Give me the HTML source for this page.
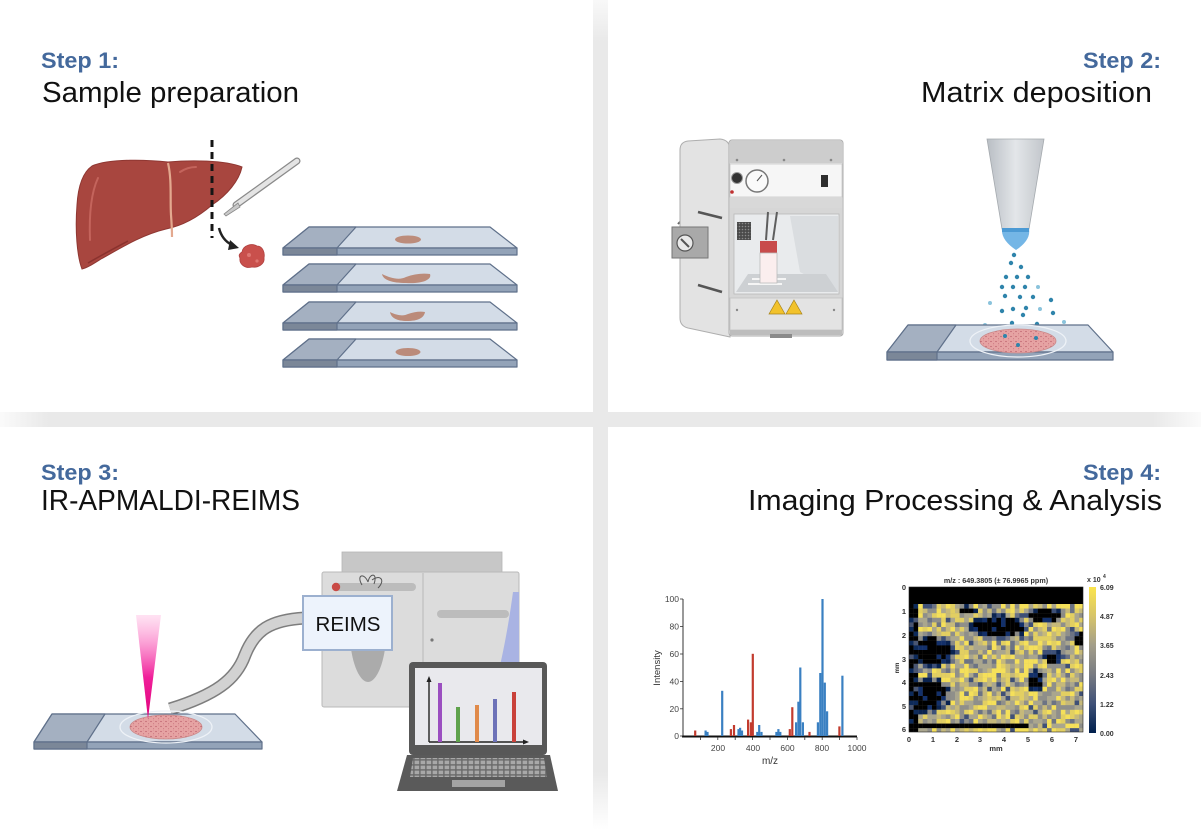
<!DOCTYPE html>
<html><head><meta charset="utf-8">
<style>
html,body{margin:0;padding:0;background:#fff;}
svg{display:block;}
text{font-family:"Liberation Sans",Arial,sans-serif;}
</style></head>
<body>
<svg xmlns="http://www.w3.org/2000/svg" width="1201" height="840" viewBox="0 0 1201 840">
<defs>
  <linearGradient id="vdiv" x1="0" y1="0" x2="0" y2="1">
    <stop offset="0" stop-color="#e9e9e9" stop-opacity="0.3"/>
    <stop offset="0.05" stop-color="#e9e9e9"/>
    <stop offset="0.93" stop-color="#e9e9e9"/>
    <stop offset="1" stop-color="#e9e9e9" stop-opacity="0"/>
  </linearGradient>
  <linearGradient id="hdiv" x1="0" y1="0" x2="1" y2="0">
    <stop offset="0" stop-color="#e9e9e9" stop-opacity="0.2"/>
    <stop offset="0.04" stop-color="#e9e9e9"/>
    <stop offset="0.96" stop-color="#e9e9e9"/>
    <stop offset="1" stop-color="#e9e9e9" stop-opacity="0.2"/>
  </linearGradient>
  <linearGradient id="laser" x1="0" y1="0" x2="0" y2="1">
    <stop offset="0" stop-color="#ff8ccf" stop-opacity="0.25"/>
    <stop offset="0.6" stop-color="#f0209a"/>
    <stop offset="1" stop-color="#e0007a"/>
  </linearGradient>
  <linearGradient id="nozzle" x1="0" y1="0" x2="1" y2="0">
    <stop offset="0" stop-color="#b9bec4"/>
    <stop offset="0.5" stop-color="#e3e6e9"/>
    <stop offset="1" stop-color="#c2c6cb"/>
  </linearGradient>
  <linearGradient id="cbar" x1="0" y1="0" x2="0" y2="1">
    <stop offset="0" stop-color="#fbe44c"/>
    <stop offset="0.2" stop-color="#d6c46a"/>
    <stop offset="0.4" stop-color="#a39e8a"/>
    <stop offset="0.6" stop-color="#787b82"/>
    <stop offset="0.8" stop-color="#3f5178"/>
    <stop offset="1" stop-color="#00204d"/>
  </linearGradient>
  <pattern id="spk" width="5" height="5" patternUnits="userSpaceOnUse">
    <rect width="5" height="5" fill="#e6a3a3"/>
    <circle cx="1" cy="1.5" r="0.6" fill="#b24f60"/>
    <circle cx="3.6" cy="3.8" r="0.5" fill="#c46a78"/>
    <circle cx="3.5" cy="0.8" r="0.4" fill="#d98a90"/>
  </pattern>
  <pattern id="keys" width="6" height="5" patternUnits="userSpaceOnUse">
    <rect width="6" height="5" fill="#6a6a6a"/>
    <rect x="0.6" y="0.6" width="4.6" height="3.6" fill="#a8a8a8"/>
  </pattern>
  <pattern id="grille" width="3" height="3" patternUnits="userSpaceOnUse">
    <rect width="3" height="3" fill="#4a4a4a"/>
    <circle cx="1.5" cy="1.5" r="0.8" fill="#8a8a8a"/>
  </pattern>
  <clipPath id="hmclip"><rect x="909" y="587" width="174" height="145"/></clipPath>
</defs>

<!-- dividers -->
<rect x="593" y="0" width="15" height="830" fill="url(#vdiv)"/>
<rect x="0" y="412" width="1201" height="15" fill="url(#hdiv)"/>

<!-- ===== Titles ===== -->
<text x="41" y="68" font-size="22" font-weight="bold" fill="#44699c" textLength="78" lengthAdjust="spacingAndGlyphs">Step 1:</text>
<text x="42" y="102" font-size="28.5" fill="#111" textLength="257" lengthAdjust="spacingAndGlyphs">Sample preparation</text>

<text x="1083" y="68" font-size="22" font-weight="bold" fill="#44699c" textLength="78" lengthAdjust="spacingAndGlyphs">Step 2:</text>
<text x="921" y="102" font-size="28.5" fill="#111" textLength="231" lengthAdjust="spacingAndGlyphs">Matrix deposition</text>

<text x="41" y="480" font-size="22" font-weight="bold" fill="#44699c" textLength="78" lengthAdjust="spacingAndGlyphs">Step 3:</text>
<text x="41" y="510" font-size="28.5" fill="#111" textLength="259" lengthAdjust="spacingAndGlyphs">IR-APMALDI-REIMS</text>

<text x="1083" y="480" font-size="22" font-weight="bold" fill="#44699c" textLength="78" lengthAdjust="spacingAndGlyphs">Step 4:</text>
<text x="748" y="510" font-size="28.5" fill="#111" textLength="414" lengthAdjust="spacingAndGlyphs">Imaging Processing &amp; Analysis</text>

<!-- ===== Step 1 illustration ===== -->
<!-- liver -->
<path d="M92,166 C110,158 150,160 168,162 C190,160 225,160 242,167 C239,181 227,195 212,205 C197,218 181,226 166,229 C141,235 119,249 101,259 C93,264 87,268 82,269 C77,256 75,230 77,205 C78,188 82,173 92,166 Z" fill="#a8463f" stroke="#8f3732" stroke-width="1"/>
<path d="M98,178 C91,193 89,215 90,240" stroke="#c4645c" stroke-width="2" fill="none" stroke-linecap="round"/>
<path d="M180,172 C186,168 192,167 196,167" stroke="#c4645c" stroke-width="2" fill="none" stroke-linecap="round"/>
<path d="M168,163 C172,180 170,200 171,215 C172,228 172,233 172,237" stroke="#e3a98f" stroke-width="2.2" fill="none"/>
<path d="M88,263 C100,256 115,248 128,241" stroke="#8a322e" stroke-width="1.5" fill="none"/>
<!-- dashed cut line -->
<line x1="212" y1="140" x2="212" y2="238" stroke="#151515" stroke-width="3" stroke-dasharray="7 5"/>
<!-- scalpel -->
<line x1="297" y1="161" x2="236" y2="205" stroke="#8a8a8a" stroke-width="7" stroke-linecap="round"/>
<line x1="297" y1="161" x2="236" y2="205" stroke="#e4e4e4" stroke-width="4.5" stroke-linecap="round"/>
<path d="M238,203 L224,214 L226,216 L240,207 Z" fill="#c9c9c9" stroke="#888" stroke-width="0.8"/>
<!-- arrow -->
<path d="M219,228 Q222,240 232,245" stroke="#222" stroke-width="2.5" fill="none"/>
<polygon points="230,240 239,248 228,250" fill="#222"/>
<!-- tissue chunk -->
<path d="M242,252 C243,245 252,243 257,246 C263,246 265,253 264,258 C265,264 258,268 252,267 C245,269 239,264 240,258 C238,255 240,253 242,252 Z" fill="#c9504c" stroke="#b04140" stroke-width="0.8"/>
<circle cx="249" cy="255" r="2" fill="#de7772"/>
<circle cx="257" cy="261" r="1.6" fill="#de7772"/>

<!-- slides (step 1) -->
<g stroke="#5f708a" stroke-width="1.2" stroke-linejoin="round">
  <polygon points="309,227 490,227 517,248 283,248" fill="#d3dce7"/>
  <polygon points="309,227 356,227 337,248 283,248" fill="#a4b0c1"/>
  <rect x="283" y="248" width="234" height="7" fill="#93a3b8"/>
  <rect x="283" y="248" width="54" height="7" fill="#7b8798"/>
  <polygon points="309,264 490,264 517,285 283,285" fill="#d3dce7"/>
  <polygon points="309,264 356,264 337,285 283,285" fill="#a4b0c1"/>
  <rect x="283" y="285" width="234" height="7" fill="#93a3b8"/>
  <rect x="283" y="285" width="54" height="7" fill="#7b8798"/>
  <polygon points="309,302 490,302 517,323 283,323" fill="#d3dce7"/>
  <polygon points="309,302 356,302 337,323 283,323" fill="#a4b0c1"/>
  <rect x="283" y="323" width="234" height="7" fill="#93a3b8"/>
  <rect x="283" y="323" width="54" height="7" fill="#7b8798"/>
  <polygon points="309,339 490,339 517,360 283,360" fill="#d3dce7"/>
  <polygon points="309,339 356,339 337,360 283,360" fill="#a4b0c1"/>
  <rect x="283" y="360" width="234" height="7" fill="#93a3b8"/>
  <rect x="283" y="360" width="54" height="7" fill="#7b8798"/>
</g>
<g fill="#b9836f" opacity="0.9">
  <ellipse cx="408" cy="239.5" rx="13" ry="4"/>
  <path d="M382,274 C392,279 400,280 406,277 C414,274 422,273 430,274 C432,279 424,284 406,283 C392,283 383,280 382,274 Z"/>
  <path d="M390,312 C398,316 404,316 408,314 C414,312 420,311 425,312 C424,318 418,321 407,321 C397,321 391,318 390,312 Z"/>
  <ellipse cx="408" cy="352" rx="12.5" ry="4"/>
</g>

<!-- ===== Step 2 illustration ===== -->
<path d="M678,224 Q685,216 692,224" stroke="#666" stroke-width="2" fill="none"/>
<rect x="686" y="258" width="4" height="16" fill="#c8c8c8" stroke="#888" stroke-width="0.6"/>
<path d="M680,150 Q680,142 688,141 L720,139 Q730,140 730,150 L730,337 L688,328 Q680,326 680,318 Z" fill="#e3e3e3" stroke="#aeaeae" stroke-width="1"/>
<line x1="698" y1="212" x2="722" y2="218" stroke="#555" stroke-width="2.5"/>
<line x1="698" y1="285" x2="722" y2="292" stroke="#555" stroke-width="2.5"/>
<rect x="672" y="227" width="36" height="31" fill="#a9a9a9" stroke="#767676" stroke-width="1"/>
<circle cx="685" cy="243" r="8" fill="#e9e9e9" stroke="#555" stroke-width="1.2"/>
<line x1="681" y1="239" x2="689" y2="247" stroke="#555" stroke-width="2"/>
<rect x="729" y="140" width="114" height="196" rx="3" fill="#e6e6e6" stroke="#adadad" stroke-width="1"/>
<rect x="730" y="141" width="112" height="22" fill="#cdcdcd"/>
<circle cx="737" cy="160" r="1.3" fill="#888"/>
<circle cx="784" cy="160" r="1.3" fill="#888"/>
<circle cx="831" cy="160" r="1.3" fill="#888"/>
<rect x="730" y="164" width="112" height="33" fill="#f6f6f6" stroke="#c9c9c9" stroke-width="0.8"/>
<circle cx="737" cy="178" r="5.5" fill="#333" stroke="#999" stroke-width="1"/>
<circle cx="757" cy="181" r="11" fill="#fafafa" stroke="#777" stroke-width="1.5"/>
<line x1="757" y1="181" x2="762" y2="175" stroke="#555" stroke-width="1"/>
<circle cx="732" cy="192" r="1.8" fill="#c03030"/>
<rect x="821" y="175" width="7" height="12" fill="#2e2e2e"/>
<rect x="730" y="197" width="112" height="11" fill="#d8d8d8"/>
<rect x="730" y="208" width="112" height="90" fill="#d6d6d6"/>
<rect x="734" y="214" width="105" height="80" fill="#e9ebed" stroke="#b9b9b9" stroke-width="0.8"/>
<polygon points="790,216 838,216 838,292 800,272" fill="#dadde0"/>
<polygon points="736,292 838,292 826,274 748,274" fill="#cdd0d3"/>
<path d="M748,284 L782,284 M752,279 L786,279" stroke="#f5f5f5" stroke-width="2"/>
<rect x="737" y="222" width="14" height="18" fill="url(#grille)"/>
<path d="M766,240 L768,212 M773,240 L777,212" stroke="#5e5e5e" stroke-width="2" fill="none"/>
<rect x="760" y="241" width="17" height="12" fill="#c84b4b"/>
<rect x="760" y="253" width="17" height="30" fill="#fbeeee" stroke="#bbb" stroke-width="0.8"/>
<rect x="730" y="298" width="112" height="32" fill="#e3e3e3" stroke="#c4c4c4" stroke-width="0.8"/>
<polygon points="777,300 785,314 769,314" fill="#f2c22b" stroke="#a8841a" stroke-width="0.7"/>
<polygon points="794,300 802,314 786,314" fill="#f2c22b" stroke="#a8841a" stroke-width="0.7"/>
<circle cx="737" cy="310" r="1.2" fill="#888"/>
<circle cx="834" cy="310" r="1.2" fill="#888"/>
<rect x="730" y="330" width="112" height="5" fill="#bdbdbd"/>
<rect x="770" y="334" width="22" height="4" fill="#8a8a8a"/>

<!-- nozzle -->
<polygon points="987,139 1044,139 1029,229 1002,229" fill="url(#nozzle)" stroke="#a5aaaf" stroke-width="0.8"/>
<path d="M1002,229 L1029,229 Q1031,240 1016,250 Q1001,240 1002,229 Z" fill="#74b6e6"/>
<rect x="1002" y="228" width="27" height="4" fill="#4c9ad4"/>
<g fill="#2f84ab">
<circle cx="1014" cy="255" r="2.2"/><circle cx="1011" cy="263" r="2.2"/><circle cx="1021" cy="267" r="2.2"/>
<circle cx="1006" cy="277" r="2.2"/><circle cx="1017" cy="277" r="2.2"/><circle cx="1028" cy="277" r="2.2"/>
<circle cx="1002" cy="287" r="2.2"/><circle cx="1013" cy="287" r="2.2"/><circle cx="1025" cy="287" r="2.2"/>
<circle cx="1005" cy="296" r="2.2"/><circle cx="1020" cy="297" r="2.2"/><circle cx="1033" cy="297" r="2.2"/>
<circle cx="1051" cy="300" r="2.2"/><circle cx="1002" cy="311" r="2.2"/><circle cx="1013" cy="309" r="2.2"/>
<circle cx="1026" cy="308" r="2.2"/><circle cx="1053" cy="313" r="2.2"/><circle cx="1023" cy="315" r="2.2"/>
<circle cx="1012" cy="323" r="2.2"/><circle cx="1037" cy="324" r="2.2"/><circle cx="998" cy="328" r="2.2"/>
<circle cx="1021" cy="328" r="2.2"/><circle cx="1048" cy="333" r="2.2"/><circle cx="1008" cy="337" r="2.4"/>
</g>
<g fill="#8ac3dc">
<circle cx="1038" cy="287" r="2"/><circle cx="990" cy="303" r="2"/><circle cx="1040" cy="309" r="2"/>
<circle cx="985" cy="325" r="2"/><circle cx="1064" cy="322" r="2"/><circle cx="977" cy="330" r="2"/>
</g>
<g stroke="#5f708a" stroke-width="1.2" stroke-linejoin="round">
  <polygon points="908,325 1088,325 1113,352 887,352" fill="#d3dce7"/>
  <polygon points="908,325 956,325 937,352 887,352" fill="#a4b0c1"/>
  <rect x="887" y="352" width="226" height="8" fill="#93a3b8"/>
  <rect x="887" y="352" width="50" height="8" fill="#7b8798"/>
</g>
<ellipse cx="1018" cy="341" rx="48" ry="16" fill="none" stroke="#eef2f7" stroke-width="1.3"/>
<ellipse cx="1018" cy="341" rx="38" ry="12" fill="url(#spk)" stroke="#c98a8a" stroke-width="0.8"/>
<g fill="#2f84ab">
<circle cx="1005" cy="336" r="2"/><circle cx="1036" cy="338" r="2"/><circle cx="1018" cy="345" r="2"/>
</g>

<!-- ===== Step 3 illustration ===== -->
<rect x="342" y="552" width="160" height="22" fill="#c7c7c7" stroke="#b5b5b5" stroke-width="0.8"/>
<rect x="322" y="572" width="197" height="135" rx="2" fill="#dcdcdc" stroke="#b9b9b9" stroke-width="1"/>
<line x1="423" y1="573" x2="423" y2="706" stroke="#bdbdbd" stroke-width="1.2"/>
<rect x="333" y="583" width="83" height="8" rx="4" fill="#bcbcbc"/>
<circle cx="336" cy="587" r="4.2" fill="#c94a45"/>
<path d="M362,585 C356,575 364,572 368,582 M368,582 C370,572 378,573 374,584 M372,580 C380,574 386,580 378,588" stroke="#555" stroke-width="1" fill="none"/>
<rect x="437" y="610" width="72" height="8" rx="4" fill="#bcbcbc"/>
<circle cx="432" cy="640" r="1.6" fill="#777"/>
<path d="M513,592 L519,592 L519,706 L490,706 C500,670 508,630 513,592 Z" fill="#a9b3e3"/>
<path d="M350,640 L386,640 C384,665 376,682 368,682 C360,682 352,665 350,640 Z" fill="#ababab"/>
<path d="M170,709 C215,695 236,680 245,655 C255,630 270,620 305,618" stroke="#7d7d7d" stroke-width="13" fill="none"/>
<path d="M170,709 C215,695 236,680 245,655 C255,630 270,620 305,618" stroke="#d2d2d2" stroke-width="10" fill="none"/>
<rect x="303" y="596" width="89" height="54" fill="#edf3fc" stroke="#9cb0cf" stroke-width="2"/>
<text x="348" y="631" font-size="20.5" fill="#111" text-anchor="middle">REIMS</text>
<g stroke="#5f708a" stroke-width="1.2" stroke-linejoin="round">
  <polygon points="52,714 235,714 262,742 34,742" fill="#d3dce7"/>
  <polygon points="52,714 105,714 87,742 34,742" fill="#a4b0c1"/>
  <rect x="34" y="742" width="228" height="7" fill="#93a3b8"/>
  <rect x="34" y="742" width="53" height="7" fill="#7b8798"/>
</g>
<ellipse cx="166" cy="727" rx="46" ry="16" fill="none" stroke="#eef2f7" stroke-width="1.3"/>
<ellipse cx="166" cy="727" rx="36" ry="12" fill="url(#spk)" stroke="#c98a8a" stroke-width="0.8"/>
<polygon points="136,615 161,615 148,719" fill="url(#laser)"/>
<rect x="409" y="662" width="138" height="93" rx="4" fill="#585858"/>
<rect x="415" y="668" width="127" height="77" fill="#e9e9ed"/>
<polygon points="407,755 550,755 558,791 397,791" fill="#5a5a5a"/>
<polygon points="413,758 544,758 547,777 410,777" fill="url(#keys)"/>
<rect x="452" y="780" width="53" height="7" fill="#a3a3a3"/>
<line x1="429" y1="680" x2="429" y2="742" stroke="#222" stroke-width="1.4"/>
<line x1="429" y1="742" x2="525" y2="742" stroke="#222" stroke-width="1.4"/>
<polygon points="429,676 426.5,682 431.5,682" fill="#222"/>
<polygon points="529,742 523,739.5 523,744.5" fill="#222"/>
<rect x="438" y="683" width="4" height="59" fill="#9b4fc0"/>
<rect x="456" y="707" width="4" height="35" fill="#5fa24c"/>
<rect x="475" y="705" width="4" height="37" fill="#e08a4a"/>
<rect x="493" y="699" width="4" height="43" fill="#6d72b8"/>
<rect x="512" y="692" width="4" height="50" fill="#c9413a"/>

<!-- ===== Step 4 illustration ===== -->
<line x1="683" y1="599" x2="683" y2="737" stroke="#333" stroke-width="1"/>
<line x1="682" y1="736.5" x2="857" y2="736.5" stroke="#111" stroke-width="2"/>
<g stroke="#333" stroke-width="0.8">
<line x1="680" y1="599" x2="683" y2="599"/><line x1="680" y1="626.6" x2="683" y2="626.6"/>
<line x1="680" y1="654" x2="683" y2="654"/><line x1="680" y1="681.4" x2="683" y2="681.4"/>
<line x1="680" y1="708.8" x2="683" y2="708.8"/><line x1="680" y1="736" x2="683" y2="736"/>
<line x1="700.4" y1="737" x2="700.4" y2="740"/><line x1="717.8" y1="737" x2="717.8" y2="740"/>
<line x1="735.2" y1="737" x2="735.2" y2="740"/><line x1="752.6" y1="737" x2="752.6" y2="740"/>
<line x1="770" y1="737" x2="770" y2="740"/><line x1="787.4" y1="737" x2="787.4" y2="740"/>
<line x1="804.8" y1="737" x2="804.8" y2="740"/><line x1="822.2" y1="737" x2="822.2" y2="740"/>
<line x1="839.6" y1="737" x2="839.6" y2="740"/><line x1="857" y1="737" x2="857" y2="740"/>
</g>
<g font-size="8.5" fill="#444" text-anchor="end">
<text x="679" y="602">100</text><text x="679" y="629.5">80</text><text x="679" y="657">60</text>
<text x="679" y="684.5">40</text><text x="679" y="712">20</text><text x="679" y="739">0</text>
</g>
<g font-size="8.5" fill="#444" text-anchor="middle">
<text x="718" y="751">200</text><text x="753" y="751">400</text><text x="787.5" y="751">600</text>
<text x="822" y="751">800</text><text x="857" y="751">1000</text>
</g>
<text x="770" y="764" font-size="10" fill="#333" text-anchor="middle">m/z</text>
<text x="0" y="0" font-size="9.5" fill="#333" text-anchor="middle" transform="translate(660,668) rotate(-90)">Intensity</text>
<g fill="#c23b2e">
<rect x="694.1" y="730.5" width="2.2" height="5.5"/>
<rect x="729.8" y="729.1" width="2.2" height="6.9"/>
<rect x="732.9" y="725" width="2.2" height="11"/>
<rect x="747" y="719.6" width="2.2" height="16.4"/>
<rect x="749.8" y="722.3" width="2.2" height="13.7"/>
<rect x="751.7" y="653.8" width="2.2" height="82.2"/>
<rect x="788.7" y="729.1" width="2.2" height="6.9"/>
<rect x="791.2" y="707.2" width="2.2" height="28.8"/>
<rect x="808.4" y="731.9" width="2.2" height="4.1"/>
<rect x="838.3" y="726.4" width="2.2" height="9.6"/>
</g>
<g fill="#3a80c2">
<rect x="704.5" y="730.5" width="2.2" height="5.5"/>
<rect x="706.4" y="731.9" width="2.2" height="4.1"/>
<rect x="721.1" y="690.8" width="2.2" height="45.2"/>
<rect x="737.4" y="729.1" width="2.2" height="6.9"/>
<rect x="739" y="727.8" width="2.2" height="8.2"/>
<rect x="740.9" y="730.5" width="2.2" height="5.5"/>
<rect x="756.2" y="731.9" width="2.2" height="4.1"/>
<rect x="758.1" y="725" width="2.2" height="11"/>
<rect x="760.4" y="731.9" width="2.2" height="4.1"/>
<rect x="775.3" y="731.9" width="2.2" height="4.1"/>
<rect x="777.3" y="729.1" width="2.2" height="6.9"/>
<rect x="779.2" y="731.9" width="2.2" height="4.1"/>
<rect x="795" y="722.3" width="2.2" height="13.7"/>
<rect x="797.3" y="701.7" width="2.2" height="34.3"/>
<rect x="799.2" y="667.5" width="2.2" height="68.5"/>
<rect x="801.8" y="722.3" width="2.2" height="13.7"/>
<rect x="816.8" y="722.3" width="2.2" height="13.7"/>
<rect x="819.2" y="673" width="2.2" height="63"/>
<rect x="821.4" y="599" width="2.2" height="137"/>
<rect x="823.7" y="682.6" width="2.2" height="53.4"/>
<rect x="826" y="711.3" width="2.2" height="24.7"/>
<rect x="841.3" y="675.7" width="2.2" height="60.3"/>
</g>

<!-- heatmap -->
<text x="996" y="583" font-size="7.2" font-weight="bold" fill="#333" text-anchor="middle">m/z : 649.3805 (± 76.9965 ppm)</text>
<rect x="909" y="587" width="174" height="145" fill="#a39f88"/>
<g id="hm" clip-path="url(#hmclip)"></g>
<rect x="909" y="587" width="174" height="17" fill="#000"/>
<rect x="909" y="587" width="174" height="145" fill="none" stroke="#222" stroke-width="0.6"/>
<rect x="1089" y="587" width="7" height="146" fill="url(#cbar)"/>
<g font-size="7" font-weight="bold" fill="#333">
<text x="1087" y="582">x 10</text><text x="1103" y="578" font-size="5">4</text>
<text x="1100" y="590">6.09</text><text x="1100" y="619">4.87</text><text x="1100" y="648">3.65</text>
<text x="1100" y="678">2.43</text><text x="1100" y="707">1.22</text><text x="1100" y="736">0.00</text>
</g>
<g font-size="7.5" font-weight="bold" fill="#333" text-anchor="middle">
<text x="904" y="590">0</text><text x="904" y="614">1</text><text x="904" y="638">2</text>
<text x="904" y="662">3</text><text x="904" y="685">4</text><text x="904" y="709">5</text><text x="904" y="732">6</text>
<text x="909" y="742">0</text><text x="933" y="742">1</text><text x="957" y="742">2</text><text x="980" y="742">3</text>
<text x="1004" y="742">4</text><text x="1028" y="742">5</text><text x="1052" y="742">6</text><text x="1076" y="742">7</text>
<text x="996" y="751">mm</text>
</g>
<text x="0" y="0" font-size="6" font-weight="bold" fill="#333" text-anchor="middle" transform="translate(899,668) rotate(-90)">mm</text>
</svg>
<script>
(function(){
var g=document.getElementById('hm');if(!g)return;var ns='http://www.w3.org/2000/svg';
var s=12345;function R(){s=(s*16807)%2147483647;return s/2147483647;}
var x0=909,y0=604,cw=4.6,ch=4.6;
var bl=[[999,627,27,10],[1046,616,17,6],[934,651,19,14],[1054,658,8,6],[1035,680,7,10],[928,695,19,16],[968,610,8,4],[1080,640,4,8]];
for(var r=0;r<28;r++){for(var c=0;c<38;c++){
 var cx=x0+c*cw+cw/2, cy=y0+r*ch+ch/2; var v=R(); var col;
 var d=9; for(var i=0;i<bl.length;i++){var b=bl[i];var dd=Math.pow((cx-b[0])/b[2],2)+Math.pow((cy-b[1])/b[3],2); if(dd<d)d=dd;}
 if(c<2){col = v<0.6?'#000':(v<0.85?'#0d2a5a':'#4a5672');}
 else if(cx<1030 && cy>722 && cy<729){col='#000';}
 else if(d<0.85){col=v<0.8?'#000':'#13306a';}
 else if(d<1.4){col=v<0.35?'#0a2350':(v<0.65?'#3d5078':'#8a8a86');}
 else { if(v<0.04)col='#3f5077'; else if(v<0.12)col='#6c7384'; else if(v<0.3)col='#8f8f8a'; else if(v<0.48)col='#aaa68e'; else if(v<0.62)col='#c6b97a'; else if(v<0.8)col='#e2cf62'; else col='#f5e05a'; }
 var e=document.createElementNS(ns,'rect');
 e.setAttribute('x',(x0+c*cw).toFixed(1));e.setAttribute('y',(y0+r*ch).toFixed(1));
 e.setAttribute('width','4.7');e.setAttribute('height','4.7');e.setAttribute('fill',col);
 g.appendChild(e);
}}
})();
</script>
</body></html>
